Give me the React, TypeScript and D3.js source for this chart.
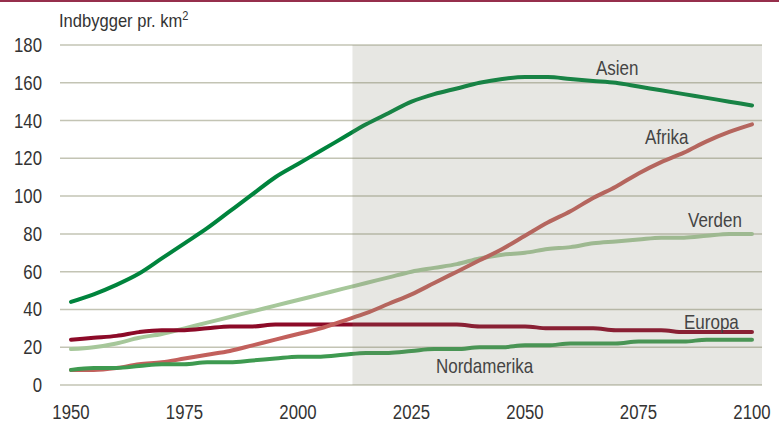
import React from "react";
import * as d3 from "d3";

const years = [1950,1955,1960,1965,1970,1975,1980,1985,1990,1995,2000,2005,2010,2015,2020,2025,2030,2035,2040,2045,2050,2055,2060,2065,2070,2075,2080,2085,2090,2095,2100];
const asien = [44,48,53,59,67,75,83,92,101,110,117,124,131,138,144,150,154,157,160,162,163,163,162,161,160,158,156,154,152,150,148];
const afrika = [8,8,9,11,12,14,16,18,21,24,27,30,34,38,43,48,54,60,66,72,79,86,92,99,105,112,118,123,129,134,138];
const verden = [19,20,22,25,27,30,33,36,39,42,45,48,51,54,57,60,62,64,67,69,70,72,73,75,76,77,78,78,79,80,80];
const europa = [24,25,26,28,29,29,30,31,31,32,32,32,32,32,32,32,32,32,31,31,31,30,30,30,29,29,29,28,28,28,28];
const nordamerika = [8,9,9,10,11,11,12,12,13,14,15,15,16,17,17,18,19,19,20,20,21,21,22,22,22,23,23,23,24,24,24];
const yTicks = [0,20,40,60,80,100,120,140,160,180];
const xTicks = [1950,1975,2000,2025,2050,2075,2100];
const forecastStart = 2012;

const series = [
  { name: "Asien", values: asien, color: "#00843d", lx: 596, ly: 75 },
  { name: "Verden", values: verden, color: "#a6c79a", lx: 688, ly: 227 },
  { name: "Europa", values: europa, color: "#8c0a28", lx: 684, ly: 329 },
  { name: "Afrika", values: afrika, color: "#c2605c", lx: 645, ly: 144 },
  { name: "Nordamerika", values: nordamerika, color: "#3e9a50", lx: 436, ly: 373 },
];

const FONT = "'Liberation Sans', Arial, sans-serif";

function CText(props: { x: number; y: number; size: number; sx: number; anchor?: string; fill?: string; children: React.ReactNode }) {
  const { x, y, size, sx, anchor = "start", fill = "#333", children } = props;
  return (
    <g transform={`translate(${x},${y}) scale(${sx},1)`}>
      <text x={0} y={0} fontSize={size} textAnchor={anchor as any} fill={fill}>{children}</text>
    </g>
  );
}

export default function App() {
  const W = 779, H = 423;
  const x = d3.scaleLinear().domain([1950, 2100]).range([71, 752]);
  const y = d3.scaleLinear().domain([0, 180]).range([385, 45]);
  const line = d3.line<number>()
    .x((_, i) => x(years[i]))
    .y((d) => y(d))
    .curve(d3.curveMonotoneX);
  const gridL = 60, gridR = 762;
  return (
    <div style={{ position: "absolute", left: 0, top: 0 }}>
      <svg width={W} height={H} style={{ display: "block", fontFamily: FONT }}>
        <rect x={0} y={0} width={W} height={H} fill="#fff" />
        <line x1={0} x2={W} y1={1} y2={1} stroke="#962f4c" strokeWidth={2} />
        {yTicks.map((t) => (
          <g key={t}>
            <line x1={gridL} x2={gridR} y1={y(t)} y2={y(t)} stroke="#c3c4b4" strokeWidth={1.5} />
            <CText x={42} y={y(t) + 7} size={19.5} sx={0.86} anchor="end">{t}</CText>
          </g>
        ))}
        {series.map((s) => (
          <path key={s.name} d={line(s.values) || ""} fill="none" stroke={s.color} strokeWidth={4} strokeLinecap="round" strokeLinejoin="round" />
        ))}
        <rect x={x(forecastStart)} y={y(180)} width={gridR - x(forecastStart)} height={y(0) - y(180)} fill="rgb(128,128,108)" fillOpacity={0.19} />
        {series.map((s) => (
          <CText key={s.name + "l"} x={s.lx} y={s.ly} size={20} sx={0.85} fill="#444">{s.name}</CText>
        ))}
        {xTicks.map((t) => (
          <CText key={t} x={x(t)} y={419} size={19.5} sx={0.86} anchor="middle">{t}</CText>
        ))}
        <CText x={59} y={27} size={18} sx={0.92}>
          Indbygger pr. km<tspan dy={-7} fontSize={12}>2</tspan>
        </CText>
      </svg>
    </div>
  );
}
